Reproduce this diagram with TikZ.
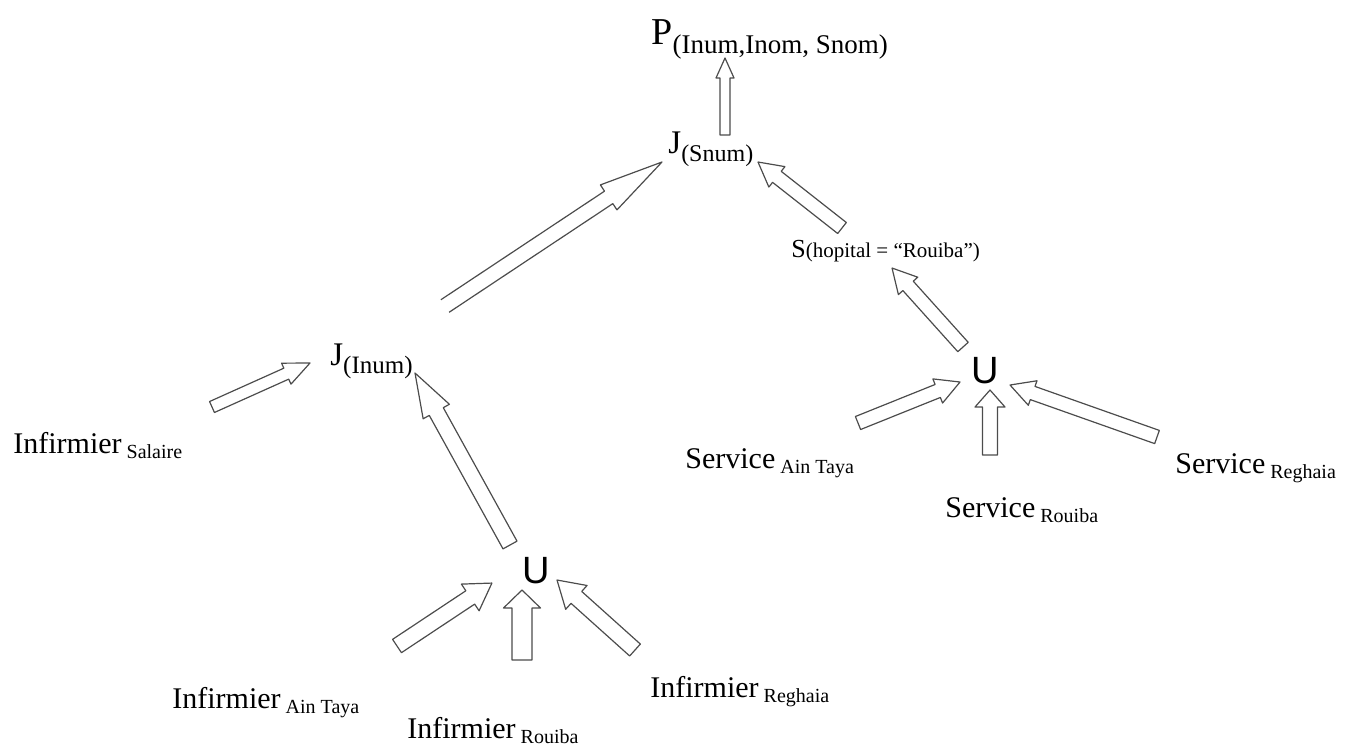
\documentclass[tikz,border=0pt]{standalone}
\usepackage{fontspec}
\setmainfont{Liberation Serif}
\newfontfamily\ufont{Liberation Sans}
\usetikzlibrary{calc}

\tikzset{
  rel/.style={inner sep=0pt, anchor=base west, font=\fontsize{15}{18}\selectfont},
  opnode/.style={inner sep=0pt, anchor=base west},
  unionop/.style={inner sep=0pt, anchor=base west, font=\ufont\fontsize{19}{20}\selectfont},
  blockline/.style={draw=black!70, line width=0.6pt, line join=round}
}
% indice du fragment
\newcommand{\site}[1]{\,\raisebox{-2.5pt}{\fontsize{10}{12}\selectfont #1}}
% fleche creuse: #2 queue, #3 pointe, #4 demi-largeur, #5 demi-largeur tete, #6 longueur tete
\newcommand{\blockarrow}[6][-- cycle]{%
  \draw[blockline] let \p2=#2, \p3=#3,
    \n1={atan2(\y3-\y2,\x3-\x2)}, \n2={veclen(\x3-\x2,\y3-\y2)} in
    [shift={(\p2)}, rotate=\n1]
    (0pt,#4) -- ({\n2*1pt-#6},#4) -- ({\n2*1pt-#6},#5) -- ({\n2*1pt},0pt)
    -- ({\n2*1pt-#6},-#5) -- ({\n2*1pt-#6},-#4) -- (0pt,-#4) #1;}

\begin{document}
\begin{tikzpicture}[x=0.5pt, y=-0.5pt]
  \useasboundingbox (0,0) rectangle (1359,746);

  % Projection et jointures
  \node[opnode] (proj) at (651,44) {{\fontsize{19}{20}\selectfont P}\raisebox{-4.5pt}{\fontsize{13.5}{15}\selectfont (Inum,Inom, Snom)}};
  \node[opnode] (jsnum) at (668,153) {{\fontsize{16.5}{18}\selectfont J}\raisebox{-4pt}{\fontsize{12}{14}\selectfont (Snum)}};
  \node[opnode] (jinum) at (330,365) {{\fontsize{16.5}{18}\selectfont J}\raisebox{-4pt}{\fontsize{12.5}{14}\selectfont (Inum)}};
  \node[opnode] (sel) at (791,257) {{\fontsize{13}{14}\selectfont S}{\fontsize{10.5}{12}\selectfont (hopital = “Rouiba”)}};

  % Unions
  \node[unionop] (uinf) at (522,583) {U};
  \node[unionop] (userv) at (971,383) {U};

  % Fragments
  \node[rel] (isal) at (13,453) {Infirmier\site{Salaire}};
  \node[rel] (iain) at (172,708) {Infirmier\site{Ain Taya}};
  \node[rel] (irou) at (407,738) {Infirmier\site{Rouiba}};
  \node[rel] (ireg) at (650,697) {Infirmier\site{Reghaia}};
  \node[rel] (sain) at (685,468) {Service\site{Ain Taya}};
  \node[rel] (srou) at (945,517) {Service\site{Rouiba}};
  \node[rel] (sreg) at (1175,473) {Service\site{Reghaia}};

  % Fleches
  \blockarrow{($(jsnum.base west)+(57,-18)$)}{($(proj.base west)+(74,14)$)}{2.5pt}{4.5pt}{10pt}
  \blockarrow[]{($(jinum.base west)+(115,-59)$)}{($(jsnum.base west)+(-6,9)$)}{3.75pt}{7.5pt}{32pt}
  \blockarrow{($(sel.base west)+(51,-29)$)}{($(jsnum.base west)+(90,9)$)}{3.5pt}{6.5pt}{12pt}
  \blockarrow{($(userv.base west)+(-8,-36)$)}{($(sel.base west)+(101,11)$)}{3.5pt}{6.5pt}{12pt}
  \blockarrow{($(sain.base west)+(173,-45)$)}{($(userv.base west)+(-11,-1)$)}{3.5pt}{6.5pt}{12pt}
  \blockarrow{($(srou.base west)+(45,-62)$)}{($(userv.base west)+(19,7)$)}{3.75pt}{7.5pt}{8.5pt}
  \blockarrow{($(sreg.base west)+(-18,-36)$)}{($(userv.base west)+(39,2)$)}{3.5pt}{6.5pt}{12pt}
  \blockarrow{($(isal.base west)+(199,-46)$)}{($(jinum.base west)+(-20,-2)$)}{3pt}{5.75pt}{13pt}
  \blockarrow{($(uinf.base west)+(-12,-38)$)}{($(jinum.base west)+(85,8)$)}{4pt}{7.5pt}{22pt}
  \blockarrow{($(iain.base west)+(225,-62)$)}{($(uinf.base west)+(-30,0)$)}{4pt}{8pt}{13pt}
  \blockarrow{($(irou.base west)+(115,-78)$)}{($(uinf.base west)+(0,7)$)}{5pt}{9.25pt}{9pt}
  \blockarrow{($(ireg.base west)+(-15,-47)$)}{($(uinf.base west)+(35,-3)$)}{4pt}{8pt}{13pt}

\end{tikzpicture}
\end{document}
